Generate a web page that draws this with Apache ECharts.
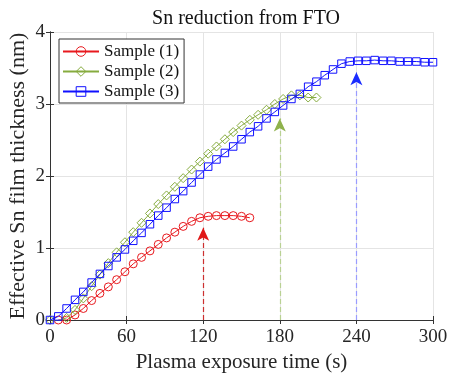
<!DOCTYPE html>
<html>
<head>
<meta charset="utf-8">
<script src="https://cdn.jsdelivr.net/npm/echarts@6/dist/echarts.min.js"></script>
<style>html,body{margin:0;padding:0;background:#fff}#c{width:449px;height:377px}</style>
</head>
<body>
<div id="c"></div>
<script>
// ---- data ----
const times = [0, 6.5, 13.0, 19.6, 26.1, 32.6, 39.1, 45.7, 52.2, 58.7, 65.2, 71.7, 78.3, 84.8, 91.3, 97.8,
  104.3, 110.9, 117.4, 123.9, 130.4, 137.0, 143.5, 150.0, 156.5, 163.0, 169.6, 176.1, 182.6, 189.1, 195.7,
  202.2, 208.7, 215.2, 221.7, 228.3, 234.8, 241.3, 247.8, 254.3, 260.9, 267.4, 273.9, 280.4, 287.0, 293.5, 300.0];
const time1 = [6.5, 13.0, 19.6, 26.1, 32.6, 39.1, 45.7, 52.2, 58.7, 65.2, 71.7, 78.3, 84.8, 91.3, 97.8,
  104.3, 110.9, 117.4, 123.9, 130.4, 137.0, 143.5, 150.0, 156.5];
const sample1 = [0.00, 0.00, 0.07, 0.16, 0.27, 0.37, 0.46, 0.56, 0.67, 0.78, 0.87, 0.96, 1.05, 1.14, 1.22,
  1.30, 1.37, 1.42, 1.44, 1.45, 1.45, 1.45, 1.44, 1.42];
const time2 = [0, 6.5, 13.0, 19.6, 26.1, 32.6, 39.1, 45.7, 52.2, 58.7, 65.2, 71.7, 78.3, 84.8, 91.3, 97.8,
  104.3, 110.9, 117.4, 123.9, 130.4, 137.0, 143.5, 150.0, 156.5, 163.0, 169.6, 176.1, 182.6, 189.1, 195.7,
  202.2, 208.7];
const sample2 = [0.00, -0.01, 0.03, 0.14, 0.30, 0.47, 0.63, 0.79, 0.94, 1.08, 1.22, 1.35, 1.48, 1.61, 1.73, 1.85,
  1.97, 2.09, 2.20, 2.31, 2.41, 2.51, 2.61, 2.70, 2.78, 2.85, 2.92, 3.00, 3.07, 3.12, 3.12,
  3.09, 3.09];
const sample3 = [0.00, 0.05, 0.16, 0.28, 0.39, 0.52, 0.64, 0.75, 0.87, 0.98, 1.10, 1.21, 1.33, 1.45, 1.56, 1.68,
  1.79, 1.91, 2.02, 2.13, 2.23, 2.32, 2.41, 2.51, 2.61, 2.69, 2.80, 2.89, 2.98, 3.07, 3.14,
  3.24, 3.31, 3.40, 3.48, 3.56, 3.59, 3.60, 3.60, 3.61, 3.60, 3.60, 3.59, 3.59, 3.59, 3.58, 3.58];
const seriesNames = ['Sample (1)', 'Sample (2)', 'Sample (3)'];
const arrowX = [120, 180, 240];
const arrowTip = [1.28, 2.80, 3.44];
const xTicks = [0, 60, 120, 180, 240, 300];
const yTicks = [0, 1, 2, 3, 4];

// ---- chart ----
const FONT = 'Liberation Serif';
const colors = ['#e8191e', '#86ab3e', '#1010ff'];
const lineColors = ['#cc3030', '#b9d193', '#9a9cff'];
const headColors = ['#e01818', '#8fb24c', '#1a2cff'];
const symbols = ['circle', 'diamond', 'rect'];
const symSizes = [8, 9, 7.5];

function pairs(xs, ys) { return xs.map((x, i) => [x, ys[i]]); }
const dataSets = [pairs(time1, sample1), pairs(time2, sample2), pairs(times, sample3)];

function arrowMark(i) {
  return {
    silent: true,
    animation: false,
    label: { show: false },
    emphasis: { disabled: true },
    data: [
      [
        { coord: [arrowX[i], 0], symbol: 'none', lineStyle: { color: lineColors[i], type: [5, 3], width: 1.2 } },
        { coord: [arrowX[i], arrowTip[i]], symbol: 'none' }
      ],
      [
        { coord: [arrowX[i], arrowTip[i] - 0.02], symbol: 'none', lineStyle: { color: headColors[i], width: 0.5, type: 'solid' } },
        { coord: [arrowX[i], arrowTip[i]], symbol: 'arrow', symbolSize: [9, 13] }
      ]
    ]
  };
}

const series = seriesNames.map((name, i) => ({
  name: name,
  type: 'line',
  data: dataSets[i],
  symbol: symbols[i],
  symbolSize: symSizes[i],
  showAllSymbol: true,
  lineStyle: { color: colors[i], width: 1 },
  itemStyle: { color: 'rgba(255,255,255,0)', borderColor: colors[i], borderWidth: 1 },
  emphasis: { disabled: true },
  animation: false,
  z: 3 + i,
  markLine: arrowMark(i)
}));

const chart = echarts.init(document.getElementById('c'), null, { renderer: 'canvas' });
const axisLabelStyle = { fontFamily: FONT, fontSize: 19, color: '#262626' };
chart.setOption({
  backgroundColor: '#fff',
  animation: false,
  title: {
    text: 'Sn reduction from FTO',
    left: 241, top: 4, textAlign: 'center',
    textStyle: { fontFamily: FONT, fontSize: 20, fontWeight: 'normal', color: '#111' }
  },
  grid: { left: 50, right: 16, top: 32, bottom: 57, show: false, containLabel: false, outerBoundsMode: 'none' },
  legend: {
    data: seriesNames.map((n, i) => ({ name: n, itemStyle: { color: 'rgba(255,255,255,0)', borderColor: colors[i], borderWidth: 1 } })),
    orient: 'vertical',
    left: 59, top: 39,
    padding: [4, 5, 3, 3],
    itemWidth: 36, itemHeight: 12, itemGap: 3,
    backgroundColor: '#fff',
    borderColor: '#333', borderWidth: 1,
    textStyle: { fontFamily: FONT, fontSize: 17, color: '#111' }
  },
  xAxis: [{
    type: 'value', min: 0, max: 300, interval: 60,
    name: 'Plasma exposure time (s)', nameLocation: 'middle', nameGap: 29,
    nameTextStyle: { fontFamily: FONT, fontSize: 21, color: '#262626' },
    axisLine: { show: true, lineStyle: { color: '#333', width: 1 } },
    axisTick: { show: true, inside: true, length: 4, lineStyle: { color: '#333' } },
    axisLabel: Object.assign({ margin: 8 }, axisLabelStyle),
    splitLine: { show: true, lineStyle: { color: '#e4e4e4', width: 1 } }
  }, {
    type: 'value', min: 0, max: 300, interval: 60, position: 'top',
    axisLine: { show: true, lineStyle: { color: '#333', width: 1 } },
    axisTick: { show: true, inside: true, length: 4, lineStyle: { color: '#333' } },
    axisLabel: { show: false }, splitLine: { show: false }
  }],
  yAxis: [{
    type: 'value', min: 0, max: 4, interval: 1,
    name: 'Effective Sn film thickness (nm)', nameLocation: 'middle', nameGap: 21, nameMoveOverlap: false,
    nameTextStyle: { fontFamily: FONT, fontSize: 22, color: '#262626' },
    axisLine: { show: true, lineStyle: { color: '#333', width: 1 } },
    axisTick: { show: true, inside: true, length: 4, lineStyle: { color: '#333' } },
    axisLabel: Object.assign({ margin: 5 }, axisLabelStyle),
    splitLine: { show: true, lineStyle: { color: '#e4e4e4', width: 1 } }
  }, {
    type: 'value', min: 0, max: 4, interval: 1, position: 'right',
    axisLine: { show: true, lineStyle: { color: '#333', width: 1 } },
    axisTick: { show: true, inside: true, length: 4, lineStyle: { color: '#333' } },
    axisLabel: { show: false }, splitLine: { show: false }
  }],
  series: series
});
</script>
</body>
</html>
